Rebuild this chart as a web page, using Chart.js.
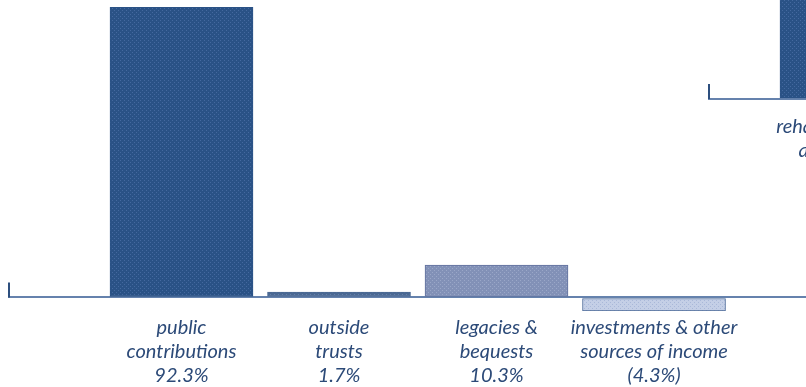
<!DOCTYPE html>
<html>
<head>
<meta charset="utf-8">
<script src="https://cdn.jsdelivr.net/npm/chart.js@4.4.1/dist/chart.umd.min.js"></script>
<style>
    html, body { margin: 0; padding: 0; background: #fff; overflow: hidden; }
    #wrap { position: relative; width: 806px; height: 387px; overflow: hidden; }
    #incomeChart { position: absolute; left: 0; top: 0; }
    #expenseChart { position: absolute; left: 700px; top: 0; }
</style>
</head>
<body>
<div id="wrap">
    <canvas id="incomeChart" width="806" height="392"></canvas>
    <canvas id="expenseChart" width="300" height="210"></canvas>
</div>
<script>
// Data - income sources
const incomeCategories = [
    ['public', 'contributions'],
    ['outside', 'trusts'],
    ['legacies &', 'bequests'],
    ['investments & other', 'sources of income']
];
const incomeValues = [92.3, 1.7, 10.3, -4.3];

// Data - second chart (cut off at the right edge)
const expenseCategories = [['rehabilitation care', 'and research']];
const expenseValues = [27.4];

const textColor = '#2c4a78';
const axisColor = '#6582ad';
const stubColor = '#2d4f7e';

// Dotted texture like the printed original
function dotPattern(base, dot) {
    const c = document.createElement('canvas');
    c.width = 4;
    c.height = 4;
    const g = c.getContext('2d');
    g.fillStyle = base;
    g.fillRect(0, 0, 4, 4);
    g.fillStyle = dot;
    g.fillRect(0, 0, 1, 1);
    g.fillRect(2, 2, 1, 1);
    return document.createElement('canvas').getContext('2d').createPattern(c, 'repeat');
}

const barFills = [
    dotPattern('#2a5286', '#44699f'),
    dotPattern('#4a6893', '#6480aa'),
    dotPattern('#8291b7', '#9aa7c8'),
    dotPattern('#c4cfe6', '#a9b8d8')
];
const barBorders = ['#2a5286', '#4a6893', '#62729f', '#4d6b99'];

function formatValue(v) {
    return v < 0 ? '(' + Math.abs(v).toFixed(1) + '%)' : v.toFixed(1) + '%';
}

// Short vertical stub at the left end of the zero line
const stubPlugin = {
    id: 'stub',
    afterDraw(chart) {
        const ctx = chart.ctx;
        const y0 = chart.scales.y.getPixelForValue(0);
        const x0 = chart.chartArea.left;
        ctx.save();
        ctx.strokeStyle = stubColor;
        ctx.lineWidth = 2;
        ctx.beginPath();
        ctx.moveTo(x0 + 1, y0 - 15);
        ctx.lineTo(x0 + 1, y0);
        ctx.stroke();
        ctx.restore();
    }
};

function makeChart(id, categories, values, fills, borders, opts) {
    const labels = categories.map((c, i) => c.concat([formatValue(values[i])]));
    return new Chart(document.getElementById(id), {
        type: 'bar',
        data: {
            datasets: [{
                data: values.map((v, i) => ({ x: i + 1, y: v })),
                backgroundColor: fills,
                borderColor: borders,
                borderWidth: 1,
                borderSkipped: false,
                barThickness: 143
            }]
        },
        plugins: [stubPlugin],
        options: {
            responsive: false,
            animation: false,
            events: [],
            layout: { padding: opts.padding },
            plugins: {
                legend: { display: false },
                tooltip: { enabled: false }
            },
            scales: {
                x: {
                    type: 'linear',
                    offset: false,
                    min: opts.xMin,
                    max: opts.xMax,
                    afterBuildTicks: axis => {
                        axis.ticks = categories.map((_, i) => ({ value: i + 1 }));
                    },
                    grid: { display: false, drawTicks: false },
                    border: { display: false },
                    ticks: {
                        autoSkip: false,
                        maxRotation: 0,
                        padding: opts.tickPad,
                        color: textColor,
                        font: { family: 'Lato', style: 'italic', size: 20, lineHeight: '24px' },
                        callback: v => labels[v - 1] || ''
                    }
                },
                y: {
                    min: opts.yMin,
                    max: opts.yMax,
                    afterBuildTicks: axis => {
                        axis.ticks = [{ value: 0 }];
                    },
                    grid: { color: axisColor, lineWidth: 2, drawTicks: false },
                    border: { display: false },
                    ticks: { display: false }
                }
            }
        }
    });
}

makeChart('incomeChart', incomeCategories, incomeValues, barFills, barBorders, {
    padding: { left: 8, right: 0, top: 0, bottom: 0 },
    xMin: -0.1016, xMax: 4.965,
    yMin: -4.3, yMax: 94.6,
    tickPad: 4.5
});

makeChart('expenseChart', expenseCategories, expenseValues, [barFills[0]], [barBorders[0]], {
    padding: { left: 8, right: 0, top: 0, bottom: 12 },
    xMin: 0.0889, xMax: 1.943,
    yMin: 0, yMax: 25,
    tickPad: 16
});
</script>
</body>
</html>
